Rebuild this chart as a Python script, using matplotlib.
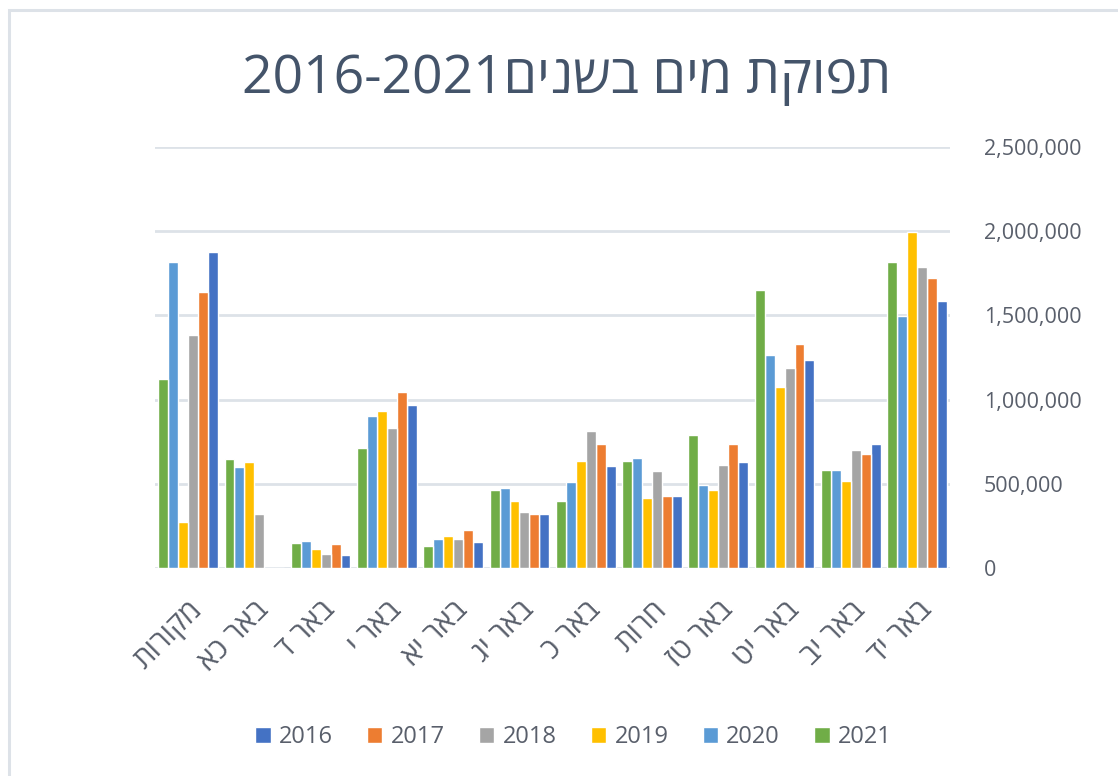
import matplotlib.pyplot as plt
import matplotlib.transforms as mtransforms
import numpy as np
from matplotlib.patches import Rectangle
from matplotlib.ticker import FuncFormatter

plt.rcParams['font.family'] = ['Open Sans', 'DejaVu Sans']

# קטגוריות לפי סדר התצוגה (משמאל לימין)
categories = ['מקורות', 'באר כא', 'באר ד', 'באר י', 'באר יא', 'באר יג',
              'באר כ', 'חרות', 'באר טז', 'באר יט', 'באר יב', 'באר יד']
years = ['2016', '2017', '2018', '2019', '2020', '2021']

v2016 = [1875000, 0, 75000, 970000, 152000, 323000, 603000, 426000, 632000, 1235000, 735000, 1584000]
v2017 = [1641000, 0, 141000, 1045000, 227000, 323000, 736000, 426000, 735000, 1328000, 679000, 1725000]
v2018 = [1386000, 321000, 85000, 830000, 170000, 331000, 814000, 576000, 612000, 1190000, 699000, 1790000]
v2019 = [273000, 632000, 113000, 932000, 190000, 396000, 634000, 416000, 462000, 1075000, 519000, 1998000]
v2020 = [1817000, 602000, 160000, 905000, 170000, 473000, 509000, 652000, 491000, 1263000, 584000, 1499000]
v2021 = [1120000, 650000, 151000, 715000, 130000, 463000, 396000, 634000, 792000, 1649000, 584000, 1817000]

series = [v2016, v2017, v2018, v2019, v2020, v2021]
colors = ['#4472C4', '#ED7D31', '#A5A5A5', '#FFC000', '#5B9BD5', '#70AD47']

title_color = '#44546A'
text_color = '#595F6B'
grid_color = '#DDE2E8'


def visual(s):
    """matplotlib לא תומך ב-bidi, לכן הופכים את סדר האותיות"""
    return s[::-1]


fig = plt.figure(figsize=(11.18, 7.76), dpi=100)
ax = fig.add_axes([0.1386, 0.268, 0.7114, 0.5426])

x = np.arange(len(categories))
w = 0.15
for i, (yr, vals, c) in enumerate(zip(years, series, colors)):
    # 2016 בצד ימין של כל קבוצה (כיוון מימין לשמאל)
    offs = (2.5 - i) * w
    ax.bar(x + offs, vals, width=w, color=c, edgecolor='white', linewidth=1.0,
           label=yr, zorder=3)

ax.set_xlim(-0.5, len(categories) - 0.5)
ax.set_ylim(0, 2500000)
ax.set_yticks(np.arange(0, 2500001, 500000))
ax.yaxis.set_major_formatter(FuncFormatter(lambda v, p: f'{int(v):,}'))
ax.yaxis.tick_right()
ax.tick_params(axis='y', length=0, pad=24, labelsize=15.5, labelcolor=text_color)
ax.tick_params(axis='x', length=0, pad=20, labelsize=21, labelcolor=text_color)
ax.grid(axis='y', color=grid_color, linewidth=2, zorder=0)
for s in ax.spines.values():
    s.set_visible(False)

ax.set_xticks(x)
ax.set_xticklabels([visual(c) for c in categories], rotation=45, ha='right',
                   va='top', rotation_mode='anchor')
shift = mtransforms.ScaledTranslation(0, 0, fig.dpi_scale_trans)
for lbl in ax.get_xticklabels():
    lbl.set_transform(lbl.get_transform() + shift)

fig.text(0.507, 0.898, '2016-2021' + visual('תפוקת מים בשנים'), ha='center',
         va='center', fontsize=38.5, color=title_color)

leg = fig.legend(loc='center', bbox_to_anchor=(0.513, 0.05), ncol=6, frameon=False,
                 fontsize=17, handlelength=0.65, handleheight=0.65, handletextpad=0.35,
                 columnspacing=1.45)
for t in leg.get_texts():
    t.set_color(text_color)

fig.patches.append(Rectangle((8.5 / 1118, -0.01), 1.2, 1 - 10 / 776 + 0.01,
                             transform=fig.transFigure, fill=False,
                             edgecolor=grid_color, linewidth=2.2))

fig.savefig('out.png', dpi=100)
